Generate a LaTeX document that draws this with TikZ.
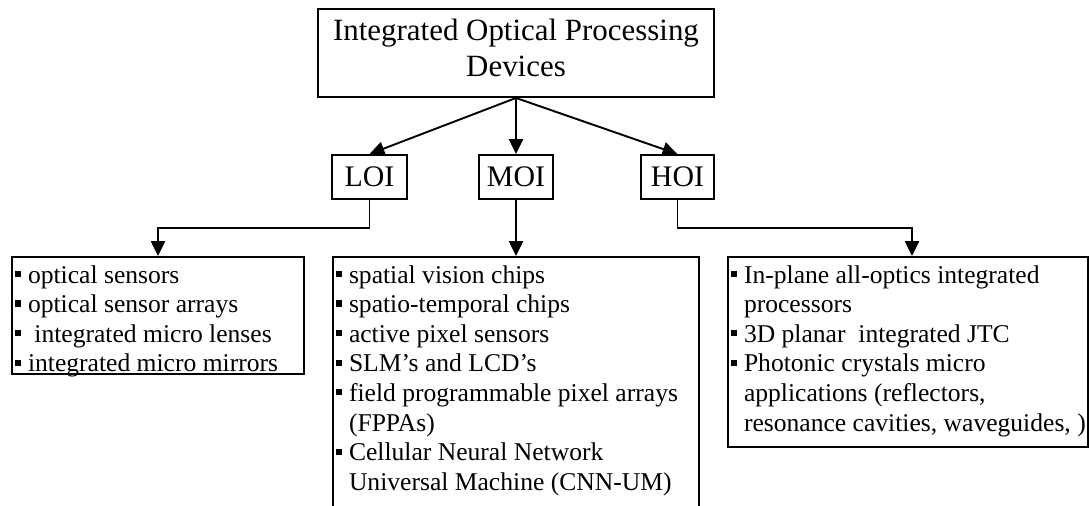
\documentclass[tikz,border=0pt]{standalone}
\usepackage{fontspec}
\setmainfont{Liberation Serif}
\usetikzlibrary{arrows.meta,fit}
\newcommand{\sqbullet}{\rule[0.24em]{0.24em}{0.24em}\hspace{0.27em}}
\newcommand{\hang}{\hphantom{\sqbullet}}
\newcommand{\pxl}{0.469pt}

\begin{document}
\begin{tikzpicture}[x=0.469pt,y=-0.469pt,line width=0.9pt]
    %
    % `box' is used for every frame, `head' and `list' for the texts.
    % `arrow' is used for all connectors.
    \tikzstyle{box} = [draw,inner sep=0pt]
    \tikzstyle{head} = [font=\fontsize{14pt}{16.9pt}\selectfont,align=center]
    \tikzstyle{list} = [font=\fontsize{12pt}{13.9pt}\selectfont,align=left,inner sep=0pt,anchor=north west]
    \tikzstyle{arrow} = [-{Triangle[length=7pt,width=6.6pt]}]
    %
    \clip (0,0) rectangle (1091,505);
    %
    % Top box
    \node[box,minimum width=396*\pxl,minimum height=88*\pxl] (dev) at (516,53) {};
    \node[head,font=\fontsize{14.5pt}{16.9pt}\selectfont,yshift=2.4pt] (devtext) at (dev.center) {Integrated Optical Processing\\Devices};
    %
    % Levels
    \node[box,head,minimum width=75*\pxl,minimum height=44*\pxl] (loi) at (369.5,177) {LOI};
    \node[box,head,minimum width=74*\pxl,minimum height=44*\pxl] (moi) at (516,177) {MOI};
    \node[box,head,minimum width=73*\pxl,minimum height=44*\pxl] (hoi) at (677.5,177) {HOI};
    \draw[arrow] (dev.south) -- (loi.north);
    \draw[arrow] (dev.south) -- (moi.north);
    \draw[arrow] (dev.south) -- (hoi.north);
    %
    % Lists
    \node[box,fit={(12,257) (304,374)}] (loilist) {};
    \node[box,fit={(333,257) (699,520)}] (moilist) {};
    \node[box,fit={(728,257) (1088,447)}] (hoilist) {};
    %
    \node[list] (loitext) at (14,261.3) {\strut\sqbullet optical sensors\\
        \sqbullet optical sensor arrays\\
        \sqbullet\ integrated micro lenses\\
        \sqbullet integrated micro mirrors};
    \node[list] (moitext) at (335,261.3) {\strut\sqbullet spatial vision chips\\
        \sqbullet spatio-temporal chips\\
        \sqbullet active pixel sensors\\
        \sqbullet SLM’s and LCD’s\\
        \sqbullet field programmable pixel arrays\\
        \hang(FPPAs)\\
        \sqbullet Cellular Neural Network\\
        \hang Universal Machine (CNN-UM)};
    \node[list] (hoitext) at (730,261.3) {\strut\sqbullet In-plane all-optics integrated\\
        \hang processors\\
        \sqbullet 3D planar\ \ integrated JTC\\
        \sqbullet Photonic crystals micro\\
        \hang applications (reflectors,\\
        \hang resonance cavities, waveguides, )};
    %
    % Connectors to the lists
    \coordinate (loiturn) at (158,228);
    \coordinate (hoiturn) at (912,228);
    \draw[arrow] (loi.south) |- (loiturn) -- (loiturn |- loilist.north);
    \draw[arrow] (moi.south) -- (moilist.north);
    \draw[arrow] (hoi.south) |- (hoiturn) -- (hoiturn |- hoilist.north);
    %
\end{tikzpicture}
\end{document}
